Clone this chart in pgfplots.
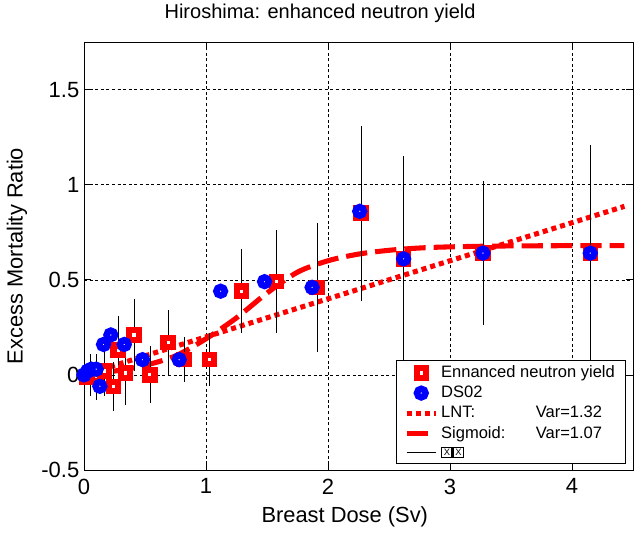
\documentclass[border=0pt]{standalone}
\usepackage{fontspec}
\setmainfont{Liberation Sans}
\usepackage{pgfplots}
\usepackage{pgfplotstable}
\pgfplotsset{compat=1.18}

% enhanced neutron yield: dose, ratio, error
\pgfplotstableread{
x     y      e
0.02  -0.01  0.00
0.05  0.00   0.11
0.10  -0.01  0.12
0.17  0.02   0.13
0.24  -0.06  0.13
0.28  0.13   0.18
0.34  0.01   0.17
0.41  0.21   0.19
0.54  0.00   0.15
0.69  0.17   0.17
0.82  0.08   0.12
1.03  0.08   0.14
1.29  0.44   0.22
1.58  0.49   0.27
1.91  0.46   0.34
2.27  0.85   0.46
2.62  0.61   0.54
3.27  0.64   0.38
4.15  0.64   0.57
}\enyield

% DS02
\pgfplotstableread{
x     y
0.00  0.00
0.03  0.02
0.06  0.03
0.10  0.03
0.13  -0.06
0.16  0.16
0.22  0.21
0.33  0.16
0.48  0.08
0.78  0.08
1.12  0.44
1.48  0.49
1.87  0.46
2.26  0.86
2.62  0.61
3.27  0.64
4.15  0.64
}\dsoz

\begin{document}
\begin{tikzpicture}
\useasboundingbox (-63pt,-47.25pt) rectangle (417pt,352.5pt);
\begin{axis}[
    at={(0,0)}, anchor=south west,
    scale only axis,
    width=411.75pt, height=321pt,
    xmin=0, xmax=4.5,
    ymin=-0.5, ymax=1.75,
    clip=false,
    xtick={0,1,2,3,4},
    xticklabels={0,1,2,3,4},
    ytick={-0.5,0,0.5,1,1.5},
    yticklabels={-0.5,0,0.5,1,1.5},
    tick align=inside,
    major tick length=5pt,
    tick style={black, line width=0.5pt},
    axis line style={black, line width=0.6pt},
    grid=major,
    major grid style={black, line width=0.4pt, dash pattern=on 2.2pt off 2pt},
    tick label style={font=\fontsize{16.5}{19}\selectfont},
    xticklabel style={yshift=-3pt},
    xlabel={Breast Dose (Sv)},
    ylabel={Excess Mortality Ratio},
    label style={font=\fontsize{16.4}{19}\selectfont},
    xlabel style={at={(axis description cs:0.475,-0.11)}, anchor=center},
    ylabel style={at={(axis description cs:-0.122,0.5)}, anchor=center},
    title={Hiroshima: enhanced neutron yield},
    title style={at={(axis description cs:0.43,1)}, anchor=center, yshift=15.5pt,
        font=\fontsize{15}{17}\selectfont},
    legend image code/.code={\draw[mark repeat=2,mark phase=2,#1]
        plot coordinates {(0pt,0pt) (11pt,0pt) (22pt,0pt)};},
    legend style={
        at={(axis description cs:0.987,0.014)}, anchor=south east,
        font=\fontsize{12.4}{14.5}\selectfont,
        draw=black, line width=0.5pt,
        cells={anchor=west},
        row sep=0.8pt,
        inner xsep=6pt, inner ysep=2.5pt,
    },
]

\addplot[only marks, mark=square*, draw=red, mark size=3.5pt,
    mark options={fill=white, draw=red, line width=4.6pt}]
    table[x=x, y=y] {\enyield};
\addlegendentry{Ennanced neutron yield}

\addplot[only marks, mark=*, draw=blue, mark size=3.2pt,
    mark options={fill=white, draw=blue, line width=4.9pt}]
    table[x=x, y=y] {\dsoz};
\addlegendentry{DS02}

\addplot[red, line width=3.8pt, dash pattern=on 3.8pt off 3pt] coordinates {
    (0,0) (4.43,0.886)
};
\addlegendentry{\makebox[71pt][l]{LNT:}Var=1.32}

\addplot[red, line width=3.8pt, dash pattern=on 16pt off 6pt, smooth] coordinates {
    (0,0) (0.25,0.02) (0.5,0.05) (0.75,0.10) (1.0,0.19) (1.25,0.30)
    (1.5,0.43) (1.75,0.54) (2.0,0.60) (2.25,0.635) (2.5,0.655)
    (2.75,0.667) (3.0,0.673) (3.5,0.678) (4.43,0.68)
};
\addlegendentry{\makebox[71pt][l]{Sigmoid:}Var=1.07}

\addplot[forget plot, draw=none, mark=none,
    error bars/.cd, y dir=both, y explicit, error mark=none,
    error bar style={draw=black, solid, line width=0.5pt}]
    table[x=x, y=y, y error=e] {\enyield};

\addlegendimage{black, line width=0.5pt}
\addlegendentry{{\setlength\fboxsep{1pt}\setlength\fboxrule{1pt}\fbox{\scriptsize X}\fbox{\scriptsize X}}}
\end{axis}
\end{tikzpicture}
\end{document}
